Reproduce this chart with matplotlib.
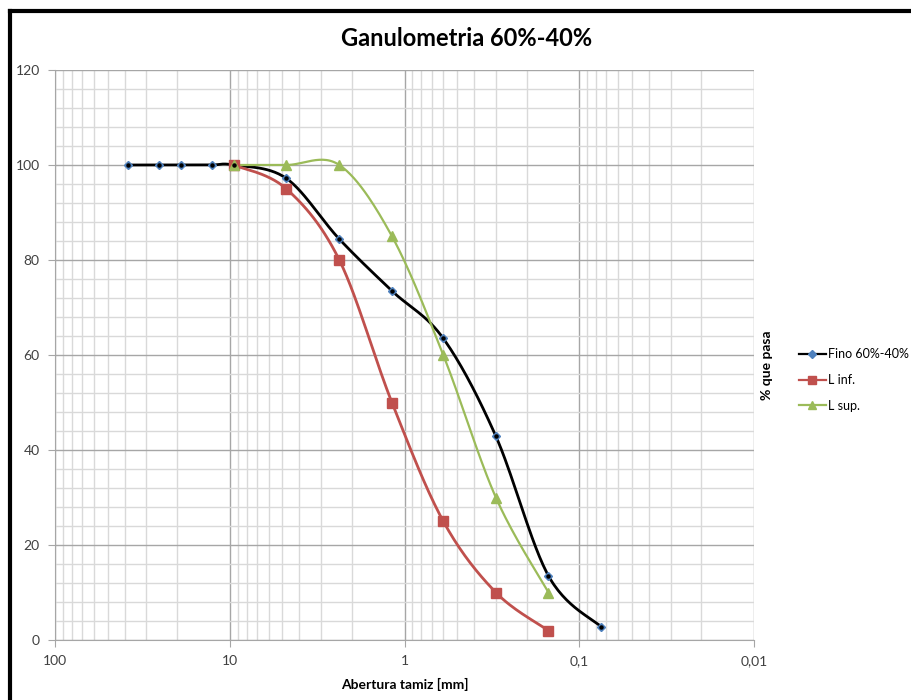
import numpy as np
import matplotlib
matplotlib.use("Agg")
import matplotlib.pyplot as plt
from matplotlib.ticker import FixedLocator, FuncFormatter, MultipleLocator
from matplotlib.lines import Line2D

plt.rcParams['font.family'] = ['Lato', 'DejaVu Sans']

# tamices (mm)
fino_x = [38.1, 25.4, 19.05, 12.7, 9.5, 4.75, 2.36, 1.18, 0.6, 0.3, 0.15, 0.075]
fino_y = [100, 100, 100, 100, 100, 97.2, 84.4, 73.5, 63.5, 42.9, 13.5, 2.8]
linf_x = [9.5, 4.75, 2.36, 1.18, 0.6, 0.3, 0.15]
linf_y = [100, 95, 80, 50, 25, 10, 2]
lsup_x = [9.5, 4.75, 2.36, 1.18, 0.6, 0.3, 0.15]
lsup_y = [100, 100, 100, 85, 60, 30, 10]

x_ticks = [100, 10, 1, 0.1, 0.01]
y_ticks = [0, 20, 40, 60, 80, 100, 120]

W, H, DPI = 912, 700, 100
ax_l, ax_r, ax_t, ax_b = 55, 754, 70, 640


def smooth(xs, ys, n=30):
    # suavizado tipo Excel (Catmull-Rom en coordenadas de pantalla)
    px_dec = (ax_r - ax_l) / 4.0
    px_unit = (ax_b - ax_t) / 120.0
    u = -np.log10(np.array(xs, float)) * px_dec
    v = np.array(ys, float) * px_unit
    P = np.column_stack([u, v])
    P = np.vstack([P[0], P, P[-1]])
    out = []
    t = np.linspace(0, 1, n)[:, None]
    for i in range(1, len(P) - 2):
        p0, p3 = P[i], P[i + 1]
        p1 = p0 + (P[i + 1] - P[i - 1]) / 6.0
        p2 = p3 - (P[i + 2] - P[i]) / 6.0
        seg = ((1 - t) ** 3) * p0 + 3 * ((1 - t) ** 2) * t * p1 + 3 * (1 - t) * t ** 2 * p2 + t ** 3 * p3
        out.append(seg)
    out = np.vstack(out)
    return 10 ** (-out[:, 0] / px_dec), out[:, 1] / px_unit


fig = plt.figure(figsize=(W / DPI, H / DPI), dpi=DPI)
ax = fig.add_axes([ax_l / W, 1 - ax_b / H, (ax_r - ax_l) / W, (ax_b - ax_t) / H])

series = [
    (fino_x, fino_y, 'Fino 60%-40%', 'black', 'D', '#4F81BD', 4.5, 2),
    (linf_x, linf_y, 'L inf.', '#C0504D', 's', '#C0504D', 6.5, 2),
    (lsup_x, lsup_y, 'L sup.', '#9BBB59', '^', '#9BBB59', 6.5, 1.6),
]
handles = []
for xs, ys, lab, col, mk, mcol, ms, lw in series:
    sx, sy = smooth(xs, ys)
    ax.plot(sx, sy, color=col, lw=lw, zorder=3)
    ax.plot(xs, ys, ls='none', marker=mk, ms=ms, mfc=mcol, mec=mcol, zorder=4)
    if mk == 'D':
        ax.plot(xs, ys, ls='none', marker='o', ms=2.2, mfc='black', mec='black', zorder=5)
    handles.append(Line2D([], [], color=col, lw=1.6, marker=mk, ms=ms * 0.85, mfc=mcol, mec=mcol))

ax.set_xscale('log')
ax.set_xlim(100, 0.01)
ax.set_ylim(0, 120)
ax.xaxis.set_major_locator(FixedLocator(x_ticks))
ax.xaxis.set_major_formatter(FuncFormatter(lambda v, p: ('%g' % v).replace('.', ',')))
ax.yaxis.set_major_locator(FixedLocator(y_ticks))
ax.yaxis.set_minor_locator(MultipleLocator(4))

ax.grid(True, which='major', color='#A6A6A6', lw=1)
ax.grid(True, which='minor', color='#D9D9D9', lw=1)
ax.set_axisbelow(True)
for s in ['top', 'right']:
    ax.spines[s].set_visible(False)
for s in ['left', 'bottom']:
    ax.spines[s].set_color('#A6A6A6')
ax.tick_params(which='major', length=5, color='#A6A6A6', labelsize=10, labelcolor='#404040', pad=6)
ax.tick_params(which='minor', length=0)
ax.tick_params(axis='x', which='minor', labelbottom=False)

ax.set_xlabel('Abertura tamiz [mm]', fontsize=10, fontweight='bold', labelpad=8)
fig.text(767 / W, 1 - 365 / H, '% que pasa', rotation=90, fontsize=10, fontweight='bold',
         ha='center', va='center')
fig.text(467 / W, 1 - 38 / H, 'Ganulometria 60%-40%', fontsize=17, fontweight='bold',
         ha='center', va='center')

fig.legend(handles=handles, labels=[s[2] for s in series], loc='center left',
           bbox_to_anchor=(790 / W, 1 - 380 / H), frameon=False, fontsize=9,
           handlelength=2.2, handletextpad=0.15, labelspacing=1.1, borderpad=0.2)

# marco del grafico
fig.add_artist(Line2D([10 / W, 1], [1 - 11 / H, 1 - 11 / H], color='black', lw=3, transform=fig.transFigure))
fig.add_artist(Line2D([10 / W, 10 / W], [0, 1 - 11 / H], color='black', lw=3, transform=fig.transFigure))

fig.savefig('out.png', dpi=DPI)
